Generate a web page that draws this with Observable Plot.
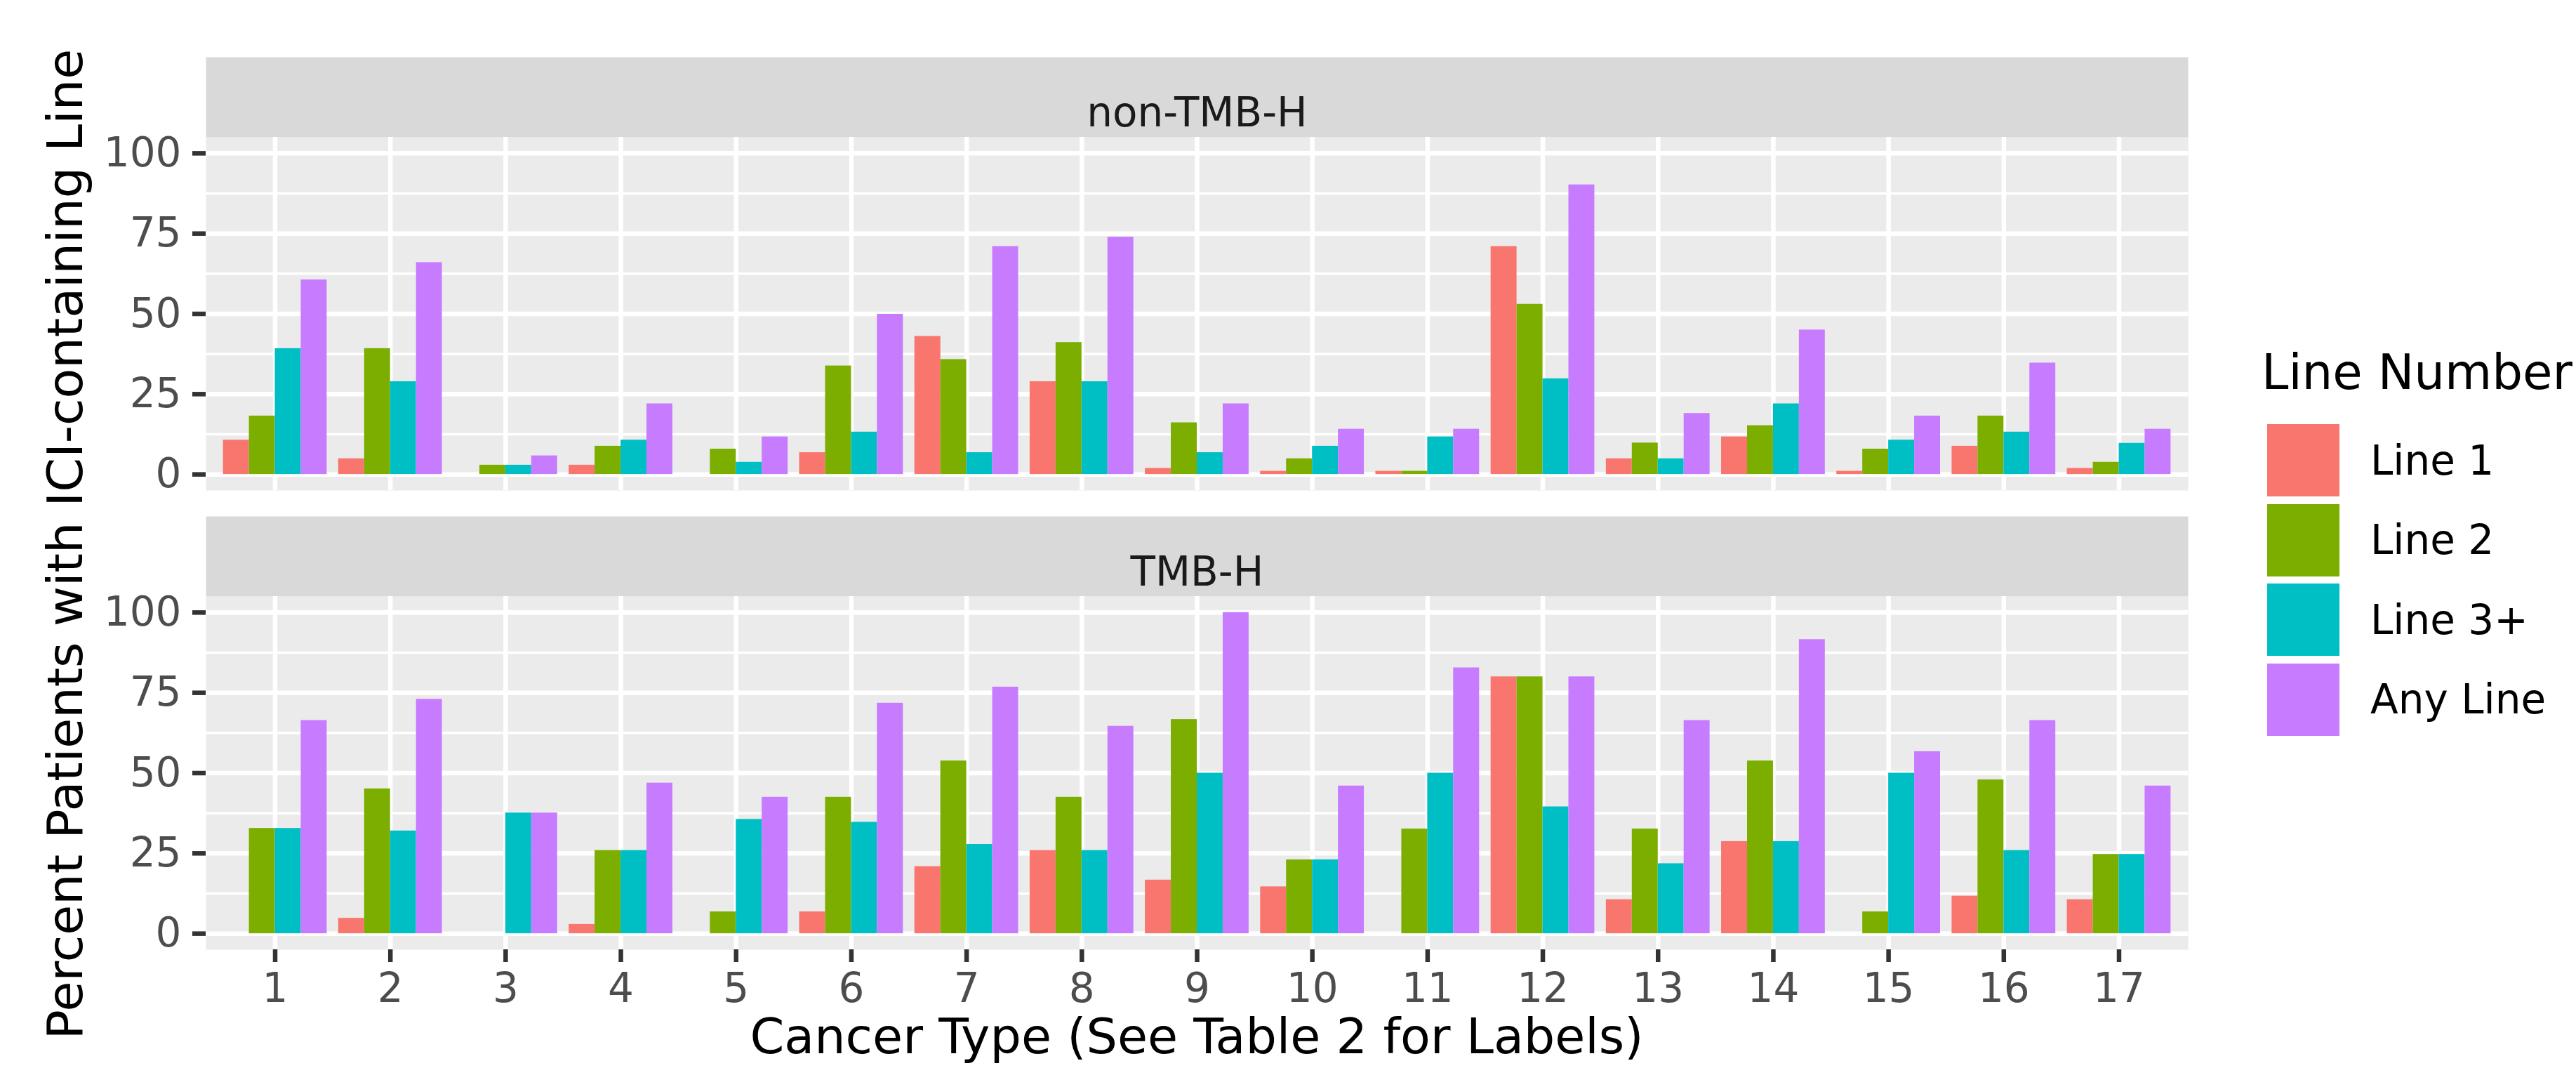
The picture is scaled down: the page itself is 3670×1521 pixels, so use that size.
<!DOCTYPE html>
<html>
<head>
<meta charset="utf-8">
<script src="https://cdn.jsdelivr.net/npm/d3@7"></script>
<script src="https://cdn.jsdelivr.net/npm/@observablehq/plot@0.6"></script>
<style>
  html, body { margin: 0; padding: 0; background: #ffffff; }
  #wrap { position: relative; width: 3670px; height: 1521px; overflow: hidden; font-family: "DejaVu Sans", sans-serif; background: #ffffff; }
  #wrap svg { position: absolute; left: 0; top: 0; }
  .ytitle { position: absolute; left: 93px; top: 775px; transform: translate(-50%, -50%) rotate(-90deg); font-size: 70px; line-height: 1; white-space: nowrap; color: #000; }
  .xtitle { position: absolute; left: 1705px; top: 1441px; transform: translateX(-50%); font-size: 70px; line-height: 1; white-space: nowrap; color: #000; }
  .legtitle { position: absolute; left: 3222px; top: 496px; font-size: 69px; line-height: 1; white-space: nowrap; color: #000; }
  .legend { position: absolute; left: 3230px; top: 604px; }
  .legitem { display: flex; align-items: center; height: 103px; margin-bottom: 10.5px; }
  .swatch { width: 103px; height: 103px; }
  .leglabel { margin-left: 44px; font-size: 58px; line-height: 1; white-space: nowrap; color: #000; }
</style>
</head>
<body>
<div id="wrap"></div>
<script>
// ---- data ----
const categories = [1, 2, 3, 4, 5, 6, 7, 8, 9, 10, 11, 12, 13, 14, 15, 16, 17];
const panels = ["non-TMB-H", "TMB-H"];
const series = ["Line 1", "Line 2", "Line 3+", "Any Line"];
const seriesColors = ["#F8766D", "#7CAE00", "#00BFC4", "#C77CFF"];
const yTicks = [0, 25, 50, 75, 100];
const yMinorTicks = [12.5, 37.5, 62.5, 87.5];

const nonTmbLine1 = [10.7, 4.9, 0, 2.9, 0, 6.8, 43, 28.9, 1.9, 1.0, 1.0, 71, 4.9, 11.7, 1.0, 8.8, 1.9];
const nonTmbLine2 = [18.2, 39.2, 2.9, 8.8, 7.9, 33.8, 35.8, 41.1, 16.1, 4.9, 1.0, 53, 9.8, 15.2, 7.9, 18.2, 3.8];
const nonTmbLine3 = [39.2, 28.9, 2.9, 10.7, 3.8, 13.2, 6.8, 28.9, 6.8, 8.8, 11.7, 29.8, 4.9, 22, 10.7, 13.2, 9.7];
const nonTmbAny   = [60.6, 66, 5.8, 22, 11.7, 49.9, 71, 73.9, 22, 14.1, 14.1, 90.2, 19, 45, 18.2, 34.7, 14.1];

const tmbLine1 = [0, 4.8, 0, 2.9, 0, 6.8, 20.9, 25.9, 16.7, 14.6, 0, 80, 10.6, 28.7, 0, 11.7, 10.6];
const tmbLine2 = [32.8, 45.1, 0, 25.9, 6.8, 42.5, 53.8, 42.5, 66.7, 23, 32.6, 80, 32.6, 53.8, 6.8, 47.9, 24.7];
const tmbLine3 = [32.8, 32, 37.6, 25.9, 35.6, 34.7, 27.8, 25.9, 50, 23, 50, 39.5, 21.8, 28.7, 50, 25.9, 24.7];
const tmbAny   = [66.4, 73, 37.6, 46.9, 42.5, 71.8, 76.8, 64.6, 100, 46, 82.8, 80, 66.4, 91.6, 56.7, 66.4, 46];

const panelSeries = {
  "non-TMB-H": [nonTmbLine1, nonTmbLine2, nonTmbLine3, nonTmbAny],
  "TMB-H": [tmbLine1, tmbLine2, tmbLine3, tmbAny]
};

const rows = [];
panels.forEach(p => panelSeries[p].forEach((arr, si) => arr.forEach((v, ci) =>
  rows.push({panel: p, category: categories[ci], series: series[si], value: v}))));

// ---- layout ----
const W = 3670, H = 1521;
const marginLeft = 293, marginRight = 553, marginTop = 195, marginBottom = 169;
const stripH = 114;
const panelGap = 151;
const facetH = (H - marginTop - marginBottom - panelGap) / 2;
const fyPad = panelGap / (facetH + panelGap);
const dodgeWidth = 0.9;
const barW = dodgeWidth / series.length;
const expand = 0.6;

const chart = Plot.plot({
  width: W,
  height: H,
  marginLeft, marginRight, marginTop, marginBottom,
  style: {fontFamily: "'DejaVu Sans', sans-serif", fontSize: "58px", background: "transparent", overflow: "visible"},
  x: {type: "linear", domain: [categories[0] - expand, categories[categories.length - 1] + expand]},
  y: {domain: [-5, 105]},
  fy: {domain: panels, axis: null, paddingInner: fyPad, paddingOuter: 0, round: false},
  color: {domain: series, range: seriesColors},
  marks: [
    Plot.frame({fill: "#EBEBEB", stroke: "none"}),
    Plot.frame({fill: "#D9D9D9", stroke: "none", insetTop: -stripH, insetBottom: facetH}),
    Plot.ruleY(yMinorTicks, {stroke: "#FFFFFF", strokeWidth: 3.5}),
    Plot.ruleY(yTicks, {stroke: "#FFFFFF", strokeWidth: 6.5}),
    Plot.ruleX(categories, {stroke: "#FFFFFF", strokeWidth: 6.5}),
    Plot.rectY(rows, {
      x1: d => d.category - dodgeWidth / 2 + series.indexOf(d.series) * barW,
      x2: d => d.category - dodgeWidth / 2 + (series.indexOf(d.series) + 1) * barW,
      y: "value",
      fy: "panel",
      fill: "series"
    }),
    Plot.text(panels, {fy: d => d, text: d => d, frameAnchor: "top", dy: -stripH / 2, fontSize: 58, fill: "#1A1A1A"}),
    Plot.axisY({ticks: yTicks, tickSize: 19, tickPadding: 16, fontSize: 58, fill: "#4D4D4D", stroke: "#333333", strokeWidth: 6.5, label: null}),
    Plot.axisX({ticks: categories, tickSize: 18, tickPadding: 15, fontSize: 58, fill: "#4D4D4D", stroke: "#333333", strokeWidth: 6.5, label: null, tickFormat: d => String(d)})
  ]
});

const wrap = document.getElementById("wrap");
wrap.appendChild(chart);

const yt = document.createElement("div");
yt.className = "ytitle";
yt.textContent = "Percent Patients with ICI-containing Line";
wrap.appendChild(yt);

const xt = document.createElement("div");
xt.className = "xtitle";
xt.textContent = "Cancer Type (See Table 2 for Labels)";
wrap.appendChild(xt);

const lt = document.createElement("div");
lt.className = "legtitle";
lt.textContent = "Line Number";
wrap.appendChild(lt);

const colorScale = chart.scale("color");
const leg = document.createElement("div");
leg.className = "legend";
colorScale.domain.forEach((name, i) => {
  const item = document.createElement("div");
  item.className = "legitem";
  const sw = document.createElement("div");
  sw.className = "swatch";
  sw.style.background = colorScale.range[i];
  const lab = document.createElement("div");
  lab.className = "leglabel";
  lab.textContent = name;
  item.appendChild(sw);
  item.appendChild(lab);
  leg.appendChild(item);
});
wrap.appendChild(leg);
</script>
</body>
</html>
